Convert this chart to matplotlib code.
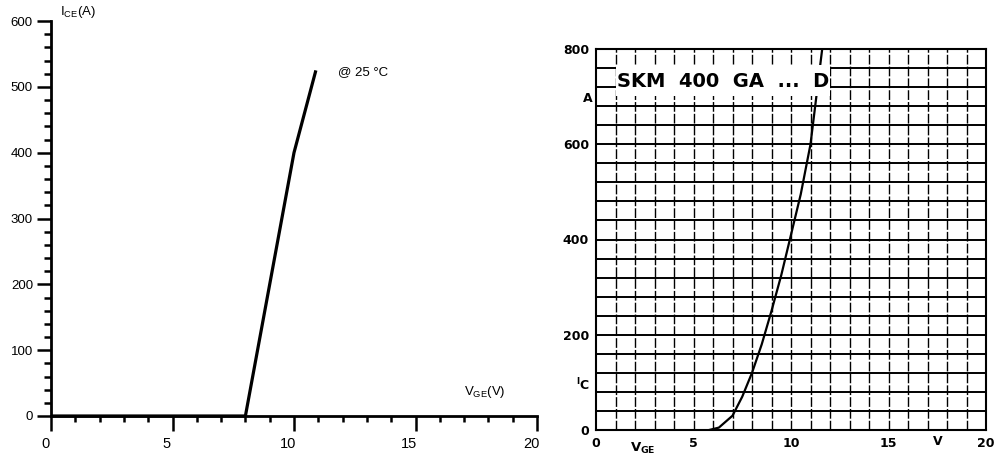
import matplotlib
matplotlib.use("Agg")
import matplotlib.pyplot as plt
import matplotlib.transforms as mtransforms
from matplotlib.patches import Rectangle
from matplotlib.ticker import MultipleLocator

# left panel: transfer characteristic @ 25 °C
left_vge = [0.0, 8.0, 9.0, 10.0, 10.9]
left_ice = [0, 0, 200, 400, 525]
left_xticks = [0, 5, 10, 15, 20]
left_yticks = [0, 100, 200, 300, 400, 500, 600]

# right panel: SKM 400 GA ... D datasheet curve
right_vge = [5.8, 6.3, 7.0, 7.5, 8.0, 8.5, 9.0, 9.5, 10.0, 10.5, 11.0, 11.3, 11.6]
right_ic = [0, 5, 30, 70, 120, 180, 250, 325, 410, 495, 600, 700, 800]
right_xticks = [0, 5, 10, 15, 20]
right_yticks = [0, 200, 400, 600, 800]

plt.rcParams["font.family"] = ["Liberation Sans", "DejaVu Sans"]

fig = plt.figure(figsize=(9.94, 4.54), dpi=100)

# ---------------- left ----------------
ax = fig.add_axes([51 / 994, 38 / 454, 486 / 994, 395 / 454])
ax.plot(left_vge, left_ice, color="black", lw=2.3, solid_capstyle="butt", clip_on=False)
ax.set_xlim(0, 20)
ax.set_ylim(0, 600)
for s in ("top", "right"):
    ax.spines[s].set_visible(False)
for s in ("left", "bottom"):
    ax.spines[s].set_linewidth(2.0)
ax.set_xticks(left_xticks)
ax.set_yticks(left_yticks)
ax.xaxis.set_minor_locator(MultipleLocator(1))
ax.yaxis.set_minor_locator(MultipleLocator(20))
ax.tick_params(axis="x", which="major", direction="out", length=11, width=1.8,
               labelsize=10.5, pad=4)
ax.tick_params(axis="x", which="minor", direction="out", length=4, width=1.8)
ax.tick_params(axis="y", which="major", direction="out", length=10, width=1.8,
               labelsize=9.5, pad=3)
ax.tick_params(axis="y", which="minor", direction="out", length=5, width=1.8)
shift = mtransforms.ScaledTranslation(-0.06, 0, fig.dpi_scale_trans)
for lab in ax.get_xticklabels():
    lab.set_transform(lab.get_transform() + shift)

ax.text(0.37, 614, r"I$_{\mathregular{CE}}$(A)", fontsize=9.5, ha="left", va="center",
        clip_on=False)
ax.text(17.0, 36, r"V$_{\mathregular{GE}}$(V)", fontsize=9.5, ha="left", va="center")
ax.text(11.8, 523, "@ 25 °C", fontsize=9.5, ha="left", va="center")

# ---------------- right ----------------
bx = fig.add_axes([596 / 994, 24 / 454, 390 / 994, 381 / 454])
bx.set_xlim(0, 20)
bx.set_ylim(0, 800)
for v in range(1, 20):
    bx.axvline(v, color="black", lw=1.0, ls=(0, (7, 1.5)), zorder=1)
for i in range(40, 800, 40):
    bx.axhline(i, color="black", lw=1.4, zorder=1)
for s in bx.spines.values():
    s.set_linewidth(1.5)
bx.plot(right_vge, right_ic, color="black", lw=1.6, zorder=2)
bx.set_xticks(right_xticks)
bx.set_yticks(right_yticks)
bx.tick_params(length=0, labelsize=9, pad=5)
for lab in bx.get_xticklabels() + bx.get_yticklabels():
    lab.set_fontfamily("DejaVu Sans")
    lab.set_fontweight("bold")

# white label box over the grid
bx.add_patch(Rectangle((1.0, 702), 11.0, 64, facecolor="white", edgecolor="none", zorder=3))
bx.text(6.5, 731, "SKM  400  GA  ...  D", fontsize=14, fontweight="bold",
        family="DejaVu Sans", ha="center", va="center", zorder=4)
bx.text(-0.41, 697, "A", fontsize=9, fontweight="bold", family="DejaVu Sans",
        ha="center", va="center", clip_on=False)
bx.text(-0.67, 95, r"$\mathregular{^{l}}$C", fontsize=9, fontweight="bold",
        family="DejaVu Sans", ha="center", va="center", clip_on=False)
bx.text(2.4, -38, r"V$_{\mathregular{GE}}$", fontsize=9.5, fontweight="bold",
        family="DejaVu Sans", ha="center", va="center", clip_on=False)
bx.text(17.5, -25, "V", fontsize=9, fontweight="bold", family="DejaVu Sans",
        ha="center", va="center", clip_on=False)

fig.savefig("out.png", dpi=100)
